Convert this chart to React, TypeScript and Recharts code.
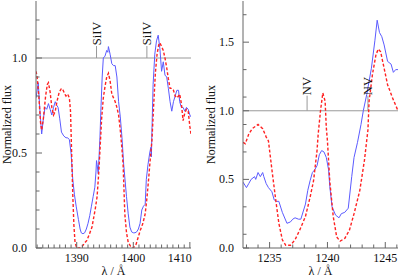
import React from 'react';
import { LineChart, Line, XAxis, YAxis, ReferenceLine } from 'recharts';

const FONT = "'Liberation Serif', 'Times New Roman', serif";
const AXIS = '#666';
const TXT = '#111';
const BLUE = '#5b5bff';
const RED = '#ff2222';

// ---------- Left panel (Si IV) ----------
const siDomain: [number, number] = [1382.8, 1410.2];
const siXTicks = [1383, 1384, 1385, 1386, 1387, 1388, 1389, 1390, 1391, 1392, 1393, 1394, 1395, 1396, 1397, 1398, 1399, 1400, 1401, 1402, 1403, 1404, 1405, 1406, 1407, 1408, 1409, 1410];
const siXMajor = [1390, 1400, 1410];
const siYTicks = [0, 0.1, 0.2, 0.3, 0.4, 0.5, 0.6, 0.7, 0.8, 0.9, 1.0, 1.1, 1.2];
const siYMajor = [0, 0.5, 1.0];
const siYDomain: [number, number] = [0, 1.3];
const siLines = [1393.5, 1402.4];
const siLabel = 'SiIV';

const siObsX = [1382.8, 1383.2, 1383.5, 1383.8, 1384.1, 1384.4, 1384.7, 1385.0, 1385.3, 1385.6, 1385.9, 1386.2, 1386.5, 1386.7, 1387.0, 1387.3, 1387.7, 1388.1, 1388.4, 1388.7, 1389.0, 1389.3, 1389.6, 1389.9, 1390.3, 1390.6, 1390.8, 1391.1, 1391.4, 1391.7, 1392.0, 1392.3, 1392.6, 1392.9, 1393.2, 1393.4, 1393.5, 1393.6, 1393.8, 1393.9, 1394.1, 1394.3, 1394.5, 1394.7, 1395.0, 1395.3, 1395.5, 1395.6, 1395.9, 1396.2, 1396.5, 1396.8, 1397.1, 1397.4, 1397.7, 1398.0, 1398.3, 1398.8, 1399.1, 1399.4, 1399.7, 1400.0, 1400.3, 1400.6, 1400.9, 1401.2, 1401.5, 1401.8, 1402.1, 1402.3, 1402.6, 1402.9, 1403.1, 1403.2, 1403.3, 1403.5, 1403.8, 1404.1, 1404.4, 1404.7, 1405.0, 1405.3, 1405.6, 1405.9, 1406.2, 1406.5, 1406.8, 1407.1, 1407.4, 1407.7, 1408.0, 1408.2, 1408.5, 1408.8, 1409.1, 1409.4, 1409.7, 1410.0, 1410.2];
const siObsY = [0.79, 0.87, 0.72, 0.6, 0.68, 0.74, 0.73, 0.76, 0.73, 0.7, 0.74, 0.77, 0.75, 0.74, 0.68, 0.61, 0.59, 0.58, 0.58, 0.57, 0.5, 0.36, 0.28, 0.22, 0.15, 0.1, 0.08, 0.075, 0.08, 0.1, 0.13, 0.17, 0.22, 0.27, 0.32, 0.4, 0.46, 0.44, 0.39, 0.45, 0.58, 0.75, 0.9, 1.0, 1.01, 1.04, 1.03, 1.06, 1.02, 0.97, 0.96, 0.96, 0.9, 0.77, 0.69, 0.58, 0.44, 0.27, 0.18, 0.11, 0.085, 0.08, 0.08, 0.085, 0.1, 0.13, 0.2, 0.22, 0.23, 0.36, 0.44, 0.5, 0.53, 0.48, 0.62, 0.86, 1.02, 1.09, 1.12, 1.05, 0.93, 0.98, 0.91, 0.9, 0.84, 0.77, 0.72, 0.77, 0.8, 0.83, 0.83, 0.77, 0.74, 0.74, 0.72, 0.74, 0.73, 0.7, 0.69];

const siModX = [1382.8, 1383.0, 1383.3, 1383.6, 1383.8, 1384.1, 1384.5, 1384.8, 1385.0, 1385.3, 1385.6, 1385.9, 1386.2, 1386.5, 1386.9, 1387.3, 1387.6, 1387.9, 1388.1, 1388.4, 1388.7, 1388.9, 1389.1, 1389.3, 1389.5, 1389.7, 1390.0, 1390.5, 1391.0, 1391.5, 1391.8, 1392.2, 1392.7, 1393.0, 1393.3, 1393.6, 1393.9, 1394.1, 1394.4, 1394.7, 1395.0, 1395.3, 1395.6, 1395.9, 1396.2, 1396.5, 1396.8, 1397.1, 1397.4, 1397.7, 1398.0, 1398.2, 1398.5, 1398.8, 1399.1, 1399.5, 1400.0, 1400.5, 1401.2, 1401.7, 1402.1, 1402.4, 1402.7, 1403.0, 1403.3, 1403.6, 1403.9, 1404.2, 1404.5, 1404.7, 1405.0, 1405.3, 1405.6, 1405.9, 1406.2, 1406.5, 1406.8, 1407.1, 1407.4, 1407.7, 1408.0, 1408.2, 1408.5, 1408.8, 1409.1, 1409.4, 1409.7, 1410.0, 1410.2];
const siModY = [0.93, 0.9, 0.8, 0.66, 0.62, 0.68, 0.8, 0.86, 0.87, 0.82, 0.74, 0.7, 0.72, 0.77, 0.82, 0.84, 0.83, 0.81, 0.8, 0.81, 0.79, 0.72, 0.5, 0.28, 0.12, 0.03, 0.0, 0.0, 0.01, 0.03, 0.04, 0.07, 0.11, 0.16, 0.21, 0.27, 0.4, 0.51, 0.68, 0.79, 0.85, 0.9, 0.92, 0.88, 0.81, 0.79, 0.77, 0.74, 0.7, 0.62, 0.52, 0.44, 0.18, 0.08, 0.03, 0.01, 0.0, 0.02, 0.09, 0.13, 0.18, 0.26, 0.36, 0.47, 0.57, 0.75, 0.92, 1.02, 1.07, 1.08, 1.06, 1.04, 1.0, 0.95, 0.89, 0.84, 0.84, 0.83, 0.8, 0.79, 0.8, 0.81, 0.76, 0.67, 0.71, 0.73, 0.72, 0.64, 0.6];

// ---------- Right panel (N V) ----------
const nvDomain: [number, number] = [1232.7, 1246.1];
const nvXTicks = [1233, 1234, 1235, 1236, 1237, 1238, 1239, 1240, 1241, 1242, 1243, 1244, 1245, 1246];
const nvXMajor = [1235, 1240, 1245];
const nvYTicks = [0, 0.1, 0.3, 0.5, 0.7, 0.9, 1.0, 1.1, 1.3, 1.5, 1.7];
const nvYMajor = [0, 0.5, 1.0, 1.5];
const nvYDomain: [number, number] = [0, 1.8];
const nvLines = [1238.24, 1243.5];
const nvLabel = 'NV';

const nvObsX = [1232.7, 1233.0, 1233.2, 1233.4, 1233.7, 1233.8, 1234.0, 1234.2, 1234.4, 1234.5, 1234.7, 1234.9, 1235.2, 1235.4, 1235.6, 1235.8, 1236.1, 1236.5, 1236.8, 1237.0, 1237.2, 1237.5, 1237.7, 1238.1, 1238.3, 1238.5, 1238.7, 1238.9, 1239.1, 1239.3, 1239.5, 1239.7, 1239.9, 1240.1, 1240.2, 1240.4, 1240.7, 1241.0, 1241.2, 1241.5, 1241.8, 1242.1, 1242.3, 1242.6, 1242.9, 1243.1, 1243.4, 1243.8, 1244.1, 1244.3, 1244.5, 1244.7, 1244.9, 1245.2, 1245.5, 1245.7, 1245.9, 1246.1];
const nvObsY = [0.48, 0.44, 0.47, 0.5, 0.52, 0.5, 0.55, 0.52, 0.55, 0.52, 0.47, 0.44, 0.41, 0.35, 0.34, 0.34, 0.26, 0.18, 0.19, 0.21, 0.22, 0.21, 0.21, 0.32, 0.42, 0.49, 0.55, 0.57, 0.6, 0.68, 0.71, 0.7, 0.66, 0.57, 0.45, 0.3, 0.24, 0.22, 0.25, 0.26, 0.29, 0.52, 0.66, 0.77, 0.9, 1.0, 1.12, 1.31, 1.51, 1.66, 1.57, 1.54, 1.48, 1.36, 1.34, 1.28, 1.3, 1.3];

const nvModX = [1232.7, 1232.9, 1233.2, 1233.5, 1234.0, 1234.4, 1234.7, 1234.9, 1235.2, 1235.5, 1235.8, 1236.1, 1236.4, 1236.8, 1237.2, 1237.6, 1238.1, 1238.5, 1238.8, 1239.1, 1239.2, 1239.4, 1239.6, 1239.8, 1239.9, 1240.0, 1240.2, 1240.5, 1240.8, 1241.1, 1241.5, 1241.9, 1242.3, 1242.8, 1243.2, 1243.5, 1243.6, 1243.9, 1244.2, 1244.4, 1244.6, 1244.9, 1245.2, 1245.6, 1246.1];
const nvModY = [0.77, 0.76, 0.83, 0.87, 0.9, 0.87, 0.81, 0.78, 0.57, 0.37, 0.18, 0.06, 0.02, 0.02, 0.06, 0.13, 0.23, 0.37, 0.49, 0.71, 0.83, 1.0, 1.13, 1.07, 0.88, 0.78, 0.49, 0.23, 0.08, 0.05, 0.07, 0.13, 0.25, 0.42, 0.64, 0.86, 1.07, 1.27, 1.41, 1.45, 1.43, 1.31, 1.19, 1.1, 1.0];

const zip = (xs: number[], ys: number[]) => xs.map((x, i) => ({ x, y: ys[i] }));

const makeBottomTick = (major: number[], endAnchor: number | null) => (props: any) => {
  const { x, y, payload } = props;
  const v = payload.value;
  const isMajor = major.some((m) => Math.abs(m - v) < 1e-6);
  const anchorEnd = endAnchor !== null && Math.abs(v - endAnchor) < 1e-6;
  return (
    <g>
      <line x1={x} x2={x} y1={y} y2={y - (isMajor ? 6 : 3.5)} stroke={AXIS} strokeWidth={1} />
      {isMajor && (
        <text x={anchorEnd ? x + 2 : x} y={y + 14} textAnchor={anchorEnd ? 'end' : 'middle'} fontSize={12} fill={TXT} fontFamily={FONT}>
          {v}
        </text>
      )}
    </g>
  );
};

const makeTopTick = (major: number[]) => (props: any) => {
  const { x, y, payload } = props;
  const isMajor = major.some((m) => Math.abs(m - payload.value) < 1e-6);
  return <line x1={x} x2={x} y1={y} y2={y + (isMajor ? 6 : 3.5)} stroke={AXIS} strokeWidth={1} />;
};

const makeLeftTick = (major: number[]) => (props: any) => {
  const { x, y, payload } = props;
  const v = payload.value;
  const isMajor = major.some((m) => Math.abs(m - v) < 1e-6);
  return (
    <g>
      <line x1={x} x2={x + (isMajor ? 6 : 3.5)} y1={y} y2={y} stroke={AXIS} strokeWidth={1} />
      {isMajor && (
        <text x={x - 9} y={y + 4} textAnchor="end" fontSize={12} fill={TXT} fontFamily={FONT}>
          {v.toFixed(1)}
        </text>
      )}
    </g>
  );
};

const makeRightTick = (major: number[]) => (props: any) => {
  const { x, y, payload } = props;
  const isMajor = major.some((m) => Math.abs(m - payload.value) < 1e-6);
  return <line x1={x - (isMajor ? 6 : 3.5)} x2={x} y1={y} y2={y} stroke={AXIS} strokeWidth={1} />;
};

const yTitle = (offset: number) => ({
  content: (props: any) => {
    const vb = props.viewBox || {};
    const x = (vb.x ?? 0) + offset;
    const y = (vb.y ?? 0) + (vb.height ?? 0) / 2;
    return (
      <text x={x} y={y} transform={`rotate(-90 ${x} ${y})`} textAnchor="middle" dominantBaseline="central" fontSize={12} fill={TXT} fontFamily={FONT}>
        Normalized flux
      </text>
    );
  },
});

const xTitle = {
  content: (props: any) => {
    const vb = props.viewBox || {};
    const x = (vb.x ?? 0) + (vb.width ?? 0) / 2;
    const y = (vb.y ?? 0) + 27;
    return (
      <text x={x} y={y} textAnchor="middle" fontSize={12} fill={TXT} fontFamily={FONT}>
        λ / Å
      </text>
    );
  },
};

const makeMarkerText = (label: string) => (props: any) => {
  const { cx, cy, index } = props;
  if (cx == null || cy == null) return <g key={`m${index}`} />;
  return (
    <text key={`m${index}`} x={cx} y={cy + 4} transform={`rotate(-90 ${cx} ${cy})`} textAnchor="start" fontSize={12.5} fill={TXT} fontFamily={FONT}>
      {label}
    </text>
  );
};

type PanelProps = {
  width: number;
  yAxisWidth: number;
  marginRight: number;
  xDomain: [number, number];
  yDomain: [number, number];
  xTicks: number[];
  xMajor: number[];
  xEndAnchor: number | null;
  yTicks: number[];
  yMajor: number[];
  obs: { x: number; y: number }[];
  mod: { x: number; y: number }[];
  markers: number[];
  markerTop: number;
  markerLabel: string;
  yTitleOffset: number;
};

const Panel = (p: PanelProps) => {
  const markerData = p.markers.map((x) => ({ x, y: p.markerTop + 0.004 }));
  return (
    <LineChart width={p.width} height={278} margin={{ top: 1, right: p.marginRight, bottom: 0, left: 0 }}>
      <XAxis
        xAxisId={0}
        type="number"
        dataKey="x"
        domain={p.xDomain}
        allowDataOverflow
        ticks={p.xTicks}
        interval={0}
        tickSize={0}
        tickMargin={0}
        tickLine={false}
        axisLine={{ stroke: AXIS, strokeWidth: 1 }}
        tick={makeBottomTick(p.xMajor, p.xEndAnchor)}
        height={30}
        label={xTitle}
      />
      <XAxis
        xAxisId="top"
        orientation="top"
        type="number"
        dataKey="x"
        domain={p.xDomain}
        allowDataOverflow
        ticks={p.xTicks}
        interval={0}
        tickSize={0}
        tickMargin={0}
        tickLine={false}
        axisLine={{ stroke: AXIS, strokeWidth: 1 }}
        tick={makeTopTick(p.xMajor)}
        height={0}
      />
      <YAxis
        yAxisId={0}
        type="number"
        domain={p.yDomain}
        allowDataOverflow
        ticks={p.yTicks}
        interval={0}
        tickSize={0}
        tickMargin={0}
        tickLine={false}
        axisLine={{ stroke: AXIS, strokeWidth: 1 }}
        tick={makeLeftTick(p.yMajor)}
        width={p.yAxisWidth}
        label={yTitle(p.yTitleOffset)}
      />
      <YAxis
        yAxisId="right"
        orientation="right"
        type="number"
        domain={p.yDomain}
        allowDataOverflow
        ticks={p.yTicks}
        interval={0}
        tickSize={0}
        tickMargin={0}
        tickLine={false}
        axisLine={{ stroke: AXIS, strokeWidth: 1 }}
        tick={makeRightTick(p.yMajor)}
        width={0}
      />
      <ReferenceLine y={1} stroke="#999" strokeWidth={1} />
      {p.markers.map((m) => (
        <ReferenceLine
          key={m}
          segment={[
            { x: m, y: 1 },
            { x: m, y: p.markerTop },
          ]}
          stroke="#999"
          strokeWidth={1}
        />
      ))}
      <Line
        data={p.obs}
        dataKey="y"
        type="linear"
        stroke={BLUE}
        strokeWidth={1}
        dot={false}
        activeDot={false}
        isAnimationActive={false}
      />
      <Line
        data={p.mod}
        dataKey="y"
        type="linear"
        stroke={RED}
        strokeWidth={1.4}
        strokeDasharray="3 2"
        dot={false}
        activeDot={false}
        isAnimationActive={false}
      />
      <Line
        data={markerData}
        dataKey="y"
        stroke="none"
        dot={makeMarkerText(p.markerLabel)}
        activeDot={false}
        isAnimationActive={false}
      />
    </LineChart>
  );
};

export default function App() {
  return (
    <div style={{ position: 'absolute', left: 0, top: 0, width: 399, height: 278, background: '#fff', fontFamily: FONT }}>
      <div style={{ position: 'absolute', left: 0, top: 0 }}>
        <Panel
          width={200}
          yAxisWidth={36}
          marginRight={9}
          xDomain={siDomain}
          yDomain={siYDomain}
          xTicks={siXTicks}
          xMajor={siXMajor}
          xEndAnchor={1410}
          yTicks={siYTicks}
          yMajor={siYMajor}
          obs={zip(siObsX, siObsY)}
          mod={zip(siModX, siModY)}
          markers={siLines}
          markerTop={1.063}
          markerLabel={siLabel}
          yTitleOffset={7}
        />
      </div>
      <div style={{ position: 'absolute', left: 200, top: 0 }}>
        <Panel
          width={199}
          yAxisWidth={43}
          marginRight={1}
          xDomain={nvDomain}
          yDomain={nvYDomain}
          xTicks={nvXTicks}
          xMajor={nvXMajor}
          xEndAnchor={null}
          yTicks={nvYTicks}
          yMajor={nvYMajor}
          obs={zip(nvObsX, nvObsY)}
          mod={zip(nvModX, nvModY)}
          markers={nvLines}
          markerTop={1.11}
          markerLabel={nvLabel}
          yTitleOffset={11}
        />
      </div>
    </div>
  );
}
